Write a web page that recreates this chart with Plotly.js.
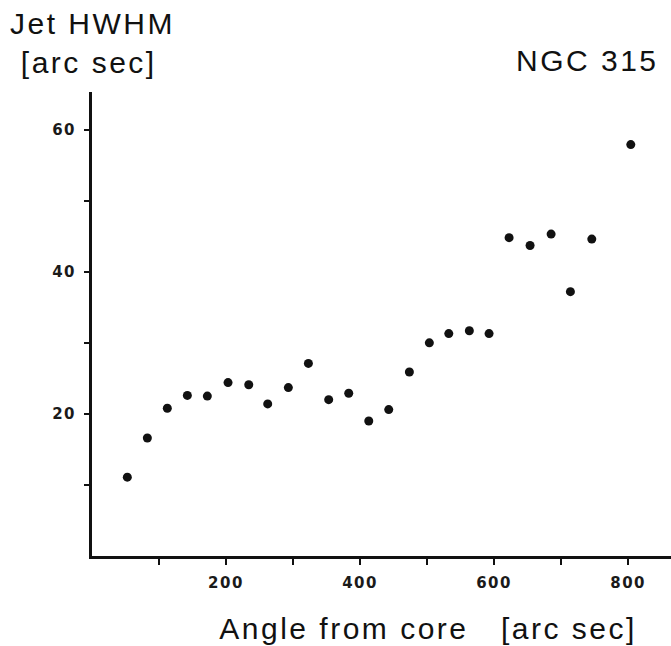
<!DOCTYPE html>
<html>
<head>
<meta charset="utf-8">
<script src="https://cdn.plot.ly/plotly-3.0.1.min.js"></script>
<style>
html,body{margin:0;padding:0;background:#fff;}
#chart{width:671px;height:646px;}
#chart text.annotation-text {letter-spacing:2.5px;}
#chart .xtick text, #chart .ytick text {letter-spacing:1.5px;}
</style>
</head>
<body>
<div id="chart"></div>
<script>
// Angle from core [arc sec]
const angle = [52.7, 82.6, 112.4, 142.3, 172.1, 203.0, 233.9, 262.2, 293.0, 322.9, 353.2, 383.1, 413.0, 442.8, 473.6, 503.4, 532.4, 563.1, 592.5, 622.4, 653.7, 685.1, 713.9, 745.8, 804.0];
// Jet HWHM [arc sec]
const hwhm  = [11.1, 16.6, 20.8, 22.6, 22.5, 24.4, 24.1, 21.4, 23.7, 27.1, 22.0, 22.9, 19.0, 20.6, 25.9, 30.0, 31.3, 31.7, 31.3, 44.8, 43.7, 45.3, 37.2, 44.6, 57.9];

const xTickVals = [100, 200, 300, 400, 500, 600, 700, 800];
const xTickText = ['', '200', '', '400', '', '600', '', '800'];
const yTickVals = [10, 20, 30, 40, 50, 60];
const yTickText = ['', '20', '', '40', '', '60'];

const yTitle = 'Jet HWHM<br>\u00A0[arc sec]';
const xTitle = 'Angle from core\u00A0\u00A0\u00A0[arc sec]';
const label = 'NGC 315';

const L = 92, R = 0, T = 92, B = 90, W = 671, H = 646;
const pw = W - L - R, ph = H - T - B;
const px = v => (v - L) / pw;
const py = v => (H - B - v) / ph;

const tickFont = {family: 'DejaVu Sans, sans-serif', size: 15, color: '#1a1a1a', weight: 'bold'};
const textFont = {family: 'Liberation Sans, Arial, sans-serif', size: 30, color: '#111'};

const trace = {
  x: angle, y: hwhm, type: 'scatter', mode: 'markers',
  marker: {color: '#111', size: 9},
  hoverinfo: 'x+y'
};

const layout = {
  width: W, height: H,
  margin: {l: L, r: R, t: T, b: B, pad: 0},
  paper_bgcolor: '#fff', plot_bgcolor: '#fff',
  showlegend: false,
  xaxis: {
    range: [0, 864], showgrid: false, zeroline: false,
    showline: true, linecolor: '#111', linewidth: 3,
    ticks: 'outside', ticklen: 6, tickwidth: 2, tickcolor: '#111',
    tickvals: xTickVals, ticktext: xTickText,
    tickfont: tickFont, ticklabelstandoff: 5,
    title: {text: ''}
  },
  yaxis: {
    range: [0, 65.3], showgrid: false, zeroline: false,
    showline: true, linecolor: '#111', linewidth: 3,
    ticks: 'outside', ticklen: 5, tickwidth: 2, tickcolor: '#111',
    tickvals: yTickVals, ticktext: yTickText,
    tickfont: tickFont, ticklabelstandoff: 5
  },
  annotations: [
    {xref: 'paper', yref: 'paper', x: px(8), y: py(5), xanchor: 'left', yanchor: 'top',
     text: yTitle, showarrow: false, align: 'left', font: textFont},
    {xref: 'paper', yref: 'paper', x: px(514), y: py(60), xanchor: 'left', yanchor: 'middle',
     text: label, showarrow: false, align: 'left', font: textFont},
    {xref: 'paper', yref: 'paper', x: px(428), y: py(628), xanchor: 'center', yanchor: 'middle',
     text: xTitle, showarrow: false, align: 'center', font: textFont}
  ]
};

Plotly.newPlot('chart', [trace], layout, {displayModeBar: false, staticPlot: true});
</script>
</body>
</html>
